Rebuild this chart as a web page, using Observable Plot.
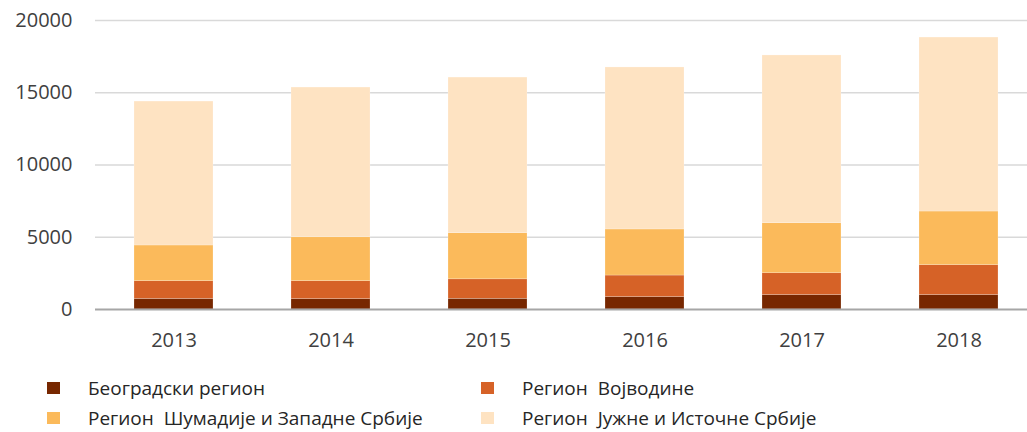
<!DOCTYPE html>
<html>
<head>
<meta charset="utf-8">
<script src="https://cdn.jsdelivr.net/npm/d3@7"></script>
<script src="https://cdn.jsdelivr.net/npm/@observablehq/plot@0.6"></script>
<style>
  html, body { margin: 0; padding: 0; background: #fff; }
  #wrap { position: relative; width: 1027px; height: 432px; overflow: hidden; }
  .item { position: absolute; display: flex; align-items: center; height: 20px; line-height: 20px;
          font-family: "Open Sans", sans-serif; font-size: 19px; color: #262626; white-space: pre; }
  .sw { width: 13px; height: 12px; margin-right: 28px; flex: none; }
</style>
</head>
<body>
<div id="wrap"></div>
<script>
const years = ["2013", "2014", "2015", "2016", "2017", "2018"];
const beograd   = [730, 720, 740, 860, 1000, 1000];
const vojvodina = [1230, 1240, 1350, 1490, 1510, 2070];
const sumadija  = [2470, 3040, 3190, 3190, 3460, 3710];
const jug       = [9960, 10360, 10770, 11210, 11610, 12040];
const seriesNames = ["Београдски регион", "Регион  Војводине", "Регион  Шумадије и Западне Србије", "Регион  Јужне и Источне Србије"];
const seriesColors = ["#772700", "#D66227", "#FBBA5B", "#FEE3C2"];
const yTicks = [0, 5000, 10000, 15000, 20000];

const seriesValues = [beograd, vojvodina, sumadija, jug];
const data = [];
seriesNames.forEach((name, i) => {
  years.forEach((yr, j) => data.push({year: yr, region: name, value: seriesValues[i][j]}));
});

const chart = Plot.plot({
  width: 1027,
  height: 360,
  marginTop: 20,
  marginBottom: 51,
  marginLeft: 95,
  marginRight: 0,
  style: {fontFamily: "Open Sans, sans-serif", fontSize: "20px", color: "#404040", background: "#fff"},
  x: {domain: years, range: [95, 1037], paddingInner: 0.5, paddingOuter: 0.25, label: null},
  y: {domain: [0, 20000], label: null},
  color: {domain: seriesNames, range: seriesColors},
  marks: [
    Plot.ruleY(yTicks.filter(d => d > 0), {stroke: "#d9d9d9", strokeWidth: 1.5}),
    Plot.barY(data, {x: "year", y: "value", fill: "region", stroke: "#ffffff", strokeWidth: 0.6, strokeOpacity: 0.35}),
    Plot.ruleY([0], {stroke: "#a6a6a6", strokeWidth: 2}),
    Plot.axisY({ticks: yTicks, tickSize: 0, tickPadding: 23, tickFormat: d3.format("d"), label: null}),
    Plot.axisX({tickSize: 0, tickPadding: 23, label: null})
  ]
});
const wrap = document.getElementById("wrap");
wrap.appendChild(chart);

const pos = [[47, 378], [481, 378], [47, 408], [481, 408]];
seriesNames.forEach((name, i) => {
  const it = document.createElement("div");
  it.className = "item";
  it.style.left = pos[i][0] + "px";
  it.style.top = pos[i][1] + "px";
  const sw = document.createElement("span");
  sw.className = "sw";
  sw.style.background = seriesColors[i];
  const tx = document.createElement("span");
  tx.textContent = name;
  it.appendChild(sw);
  it.appendChild(tx);
  wrap.appendChild(it);
});
</script>
</body>
</html>
